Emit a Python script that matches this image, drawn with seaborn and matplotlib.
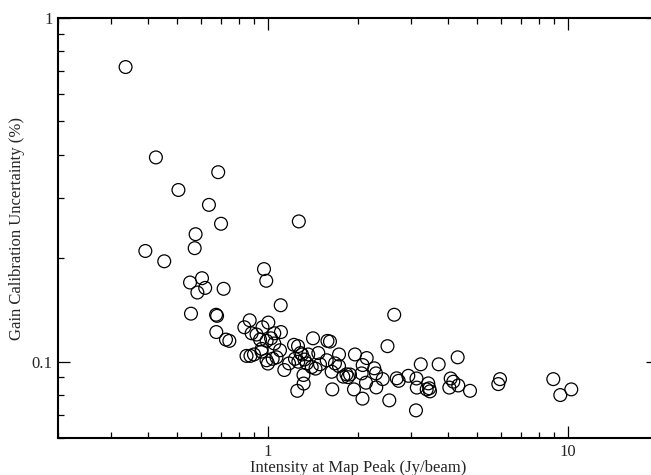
import matplotlib
matplotlib.use("Agg")
import matplotlib.pyplot as plt
import matplotlib.ticker as mticker
import seaborn as sns

# peak intensity (Jy/beam) and gain calibration uncertainty (%)
peak = [
    0.336, 0.424, 0.684, 0.504, 0.637, 0.699, 1.27, 0.575, 0.571, 0.391,
    0.452, 0.972, 0.989, 0.551, 0.604, 0.619, 0.583, 0.713, 1.105, 0.555,
    0.673, 0.678, 0.674, 0.726, 0.745, 0.836, 0.871, 1.005, 0.961, 0.884,
    0.918, 0.943, 0.992, 1.026, 1.107, 1.052, 1.052, 1.099, 0.850, 0.876,
    0.900, 0.954, 0.955, 0.991, 1.002, 1.039, 1.070, 1.136, 1.178, 1.224,
    1.262, 1.286, 1.233, 1.265, 1.416, 1.582, 1.613, 1.301, 1.326, 1.365,
    1.349, 1.402, 1.475, 1.494, 1.443, 1.573, 1.729, 1.676, 1.634, 1.729,
    1.786, 1.831, 1.881, 1.852, 1.954, 2.138, 2.073, 2.057, 2.126, 1.939,
    2.070, 1.642, 1.316, 1.318, 1.255, 2.266, 2.301, 2.296, 2.417, 2.641,
    2.508, 2.543, 2.692, 2.733, 2.943, 3.133, 3.141, 3.121, 3.238, 3.715,
    3.430, 3.457, 3.475, 3.388, 4.298, 4.074, 4.156, 4.318, 4.031, 4.725,
    5.948, 5.871, 8.954, 9.448, 10.28,
]
uncert = [
    0.72, 0.393, 0.356, 0.316, 0.286, 0.252, 0.256, 0.235, 0.214, 0.210,
    0.196, 0.186, 0.172, 0.170, 0.175, 0.164, 0.159, 0.163, 0.146, 0.138,
    0.137, 0.136, 0.122, 0.116, 0.115, 0.126, 0.132, 0.130, 0.126, 0.121,
    0.120, 0.116, 0.115, 0.117, 0.122, 0.121, 0.113, 0.108, 0.104, 0.104,
    0.105, 0.107, 0.109, 0.101, 0.0988, 0.102, 0.103, 0.0946, 0.0989, 0.112,
    0.111, 0.106, 0.102, 0.100, 0.117, 0.115, 0.1145, 0.105, 0.1015, 0.105,
    0.0989, 0.0965, 0.106, 0.0983, 0.0955, 0.101, 0.105, 0.0989, 0.0935, 0.0971,
    0.0905, 0.0919, 0.0918, 0.0902, 0.105, 0.1025, 0.0978, 0.0925, 0.0869, 0.0831,
    0.0781, 0.0831, 0.0915, 0.0864, 0.0823, 0.0957, 0.0842, 0.0925, 0.089, 0.137,
    0.111, 0.0772, 0.0895, 0.088, 0.091, 0.0894, 0.0841, 0.0722, 0.0983, 0.0983,
    0.0865, 0.0837, 0.082, 0.0831, 0.103, 0.0894, 0.0875, 0.0853, 0.0841, 0.0823,
    0.089, 0.0861, 0.089, 0.080, 0.0831,
]

sns.set_style("ticks")
plt.rcParams["font.family"] = ["Liberation Serif", "DejaVu Serif"]
plt.rcParams["font.size"] = 12

fig = plt.figure(figsize=(6.51, 4.75), dpi=100)
ax = fig.add_axes([58 / 651, 37 / 475, 600 / 651, 420 / 475])

sns.scatterplot(x=peak, y=uncert, ax=ax, marker="o", s=85,
                facecolors="none", edgecolor="black", linewidth=0.9)

ax.set_xscale("log")
ax.set_yscale("log")
ax.set_xlim(0.2, 20)
ax.set_ylim(0.06, 1)

fmt = mticker.FuncFormatter(lambda v, p: f"{v:g}")
ax.xaxis.set_major_locator(mticker.FixedLocator([1, 10]))
ax.yaxis.set_major_locator(mticker.FixedLocator([0.1, 1]))
ax.xaxis.set_major_formatter(fmt)
ax.yaxis.set_major_formatter(fmt)
ax.xaxis.set_minor_locator(mticker.LogLocator(base=10, subs=range(2, 10)))
ax.yaxis.set_minor_locator(mticker.LogLocator(base=10, subs=range(2, 10)))
ax.xaxis.set_minor_formatter(mticker.NullFormatter())
ax.yaxis.set_minor_formatter(mticker.NullFormatter())

ax.tick_params(which="both", direction="in", top=True, right=True,
               color="black", width=0.9)
ax.tick_params(which="major", length=8.6)
ax.tick_params(which="minor", length=4.3)
ax.tick_params(axis="x", which="major", pad=4)
ax.tick_params(axis="y", which="major", pad=4)

for sp in ax.spines.values():
    sp.set_linewidth(1.5)
    sp.set_color("black")

ax.set_xlabel("Intensity at Map Peak (Jy/beam)", labelpad=0)
ax.set_ylabel("Gain Calibration Uncertainty (%)", labelpad=5)

fig.savefig("out.png", dpi=100)
